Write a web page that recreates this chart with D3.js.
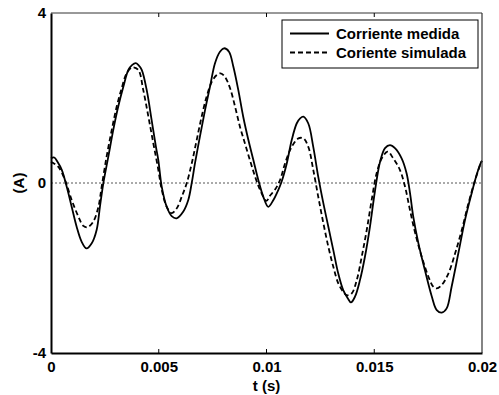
<!DOCTYPE html>
<html>
<head>
<meta charset="utf-8">
<script src="https://cdn.jsdelivr.net/npm/d3@7"></script>
<style>
  body { margin: 0; background: #fff; }
  text { font-family: "Liberation Sans", Arial, sans-serif; font-weight: bold; }
</style>
</head>
<body>
<div id="chart"></div>
<script>
// time in ms, current in A
var tMedida = [0.00, 0.15, 0.30, 0.50, 0.73, 0.96, 1.19, 1.42, 1.65, 1.89, 2.12, 2.27, 2.43, 2.66, 2.89, 3.12, 3.36, 3.59, 3.77, 3.93, 4.05, 4.21, 4.44, 4.67, 4.87, 4.98, 5.14, 5.37, 5.60, 5.83, 6.14, 6.37, 6.53, 6.68, 6.91, 7.15, 7.38, 7.61, 7.84, 8.03, 8.26, 8.46, 8.69, 8.92, 9.16, 9.39, 9.62, 9.85, 10.08, 10.32, 10.55, 10.70, 10.94, 11.17, 11.40, 11.56, 11.71, 11.94, 12.17, 12.40, 12.64, 12.87, 13.10, 13.33, 13.56, 13.77, 13.92, 14.11, 14.34, 14.57, 14.80, 15.03, 15.27, 15.50, 15.73, 15.96, 16.27, 16.50, 16.66, 16.81, 17.05, 17.35, 17.67, 17.90, 18.13, 18.36, 18.59, 18.90, 19.21, 19.52, 19.75, 19.95, 20.00];
var iMedida = [0.58, 0.60, 0.50, 0.31, -0.09, -0.56, -1.03, -1.38, -1.54, -1.42, -1.10, -0.56, 0.00, 0.62, 1.25, 1.80, 2.27, 2.66, 2.78, 2.82, 2.78, 2.66, 2.19, 1.48, 0.85, 0.54, -0.09, -0.56, -0.78, -0.83, -0.67, -0.40, 0.00, 0.46, 1.09, 1.72, 2.27, 2.82, 3.09, 3.17, 3.09, 2.74, 2.19, 1.56, 1.01, 0.54, 0.07, -0.32, -0.56, -0.40, -0.16, 0.03, 0.46, 1.01, 1.40, 1.52, 1.56, 1.40, 0.85, 0.15, -0.48, -1.03, -1.58, -2.13, -2.52, -2.71, -2.81, -2.67, -2.28, -1.73, -1.03, -0.20, 0.50, 0.82, 0.89, 0.82, 0.58, 0.23, -0.24, -0.79, -1.42, -2.05, -2.67, -2.99, -3.05, -2.95, -2.44, -1.66, -0.87, -0.24, 0.19, 0.48, 0.52];

var tSimulada = [0.00, 0.10, 0.34, 0.65, 0.96, 1.27, 1.50, 1.70, 1.96, 2.20, 2.35, 2.58, 2.82, 3.05, 3.28, 3.51, 3.77, 4.05, 4.28, 4.52, 4.75, 4.98, 5.14, 5.37, 5.60, 5.83, 6.07, 6.30, 6.53, 6.76, 6.99, 7.22, 7.46, 7.69, 7.87, 8.07, 8.31, 8.54, 8.77, 9.00, 9.23, 9.47, 9.70, 10.00, 10.16, 10.39, 10.63, 10.86, 11.17, 11.48, 11.71, 11.94, 12.17, 12.40, 12.64, 12.87, 13.10, 13.33, 13.56, 13.72, 13.95, 14.19, 14.42, 14.65, 14.88, 15.11, 15.35, 15.62, 15.88, 16.19, 16.43, 16.66, 16.90, 17.20, 17.51, 17.74, 17.90, 18.13, 18.44, 18.75, 19.06, 19.37, 19.68, 19.95, 20.00];
var iSimulada = [0.50, 0.47, 0.38, 0.07, -0.40, -0.79, -1.01, -1.04, -0.91, -0.56, -0.09, 0.62, 1.25, 1.80, 2.23, 2.58, 2.72, 2.66, 2.19, 1.56, 0.93, 0.31, -0.16, -0.56, -0.71, -0.60, -0.32, 0.00, 0.46, 1.01, 1.56, 2.03, 2.38, 2.54, 2.58, 2.50, 2.23, 1.80, 1.32, 0.93, 0.54, 0.15, -0.16, -0.42, -0.30, -0.16, 0.07, 0.46, 0.85, 1.05, 1.05, 0.85, 0.31, -0.32, -0.95, -1.50, -1.97, -2.36, -2.56, -2.64, -2.60, -2.28, -1.73, -1.11, -0.40, 0.23, 0.58, 0.74, 0.58, 0.31, -0.09, -0.64, -1.18, -1.73, -2.20, -2.44, -2.48, -2.40, -2.13, -1.66, -1.11, -0.48, 0.07, 0.47, 0.52];

var xTicks = [0, 0.005, 0.01, 0.015, 0.02];
var xTickLabels = ["0", "0.005", "0.01", "0.015", "0.02"];
var yTicks = [-4, 0, 4];
var yTickLabels = ["-4", "0", "4"];
var seriesNames = ["Corriente medida", "Coriente simulada"];

// set the dimensions and margins of the graph
var margin = {top: 13, right: 17, bottom: 42, left: 51},
    width = 499 - margin.left - margin.right,
    height = 395 - margin.top - margin.bottom;

var svg = d3.select("#chart")
  .append("svg")
    .attr("width", 499)
    .attr("height", 395)
  .append("g")
    .attr("transform", "translate(" + margin.left + "," + margin.top + ")");

var x = d3.scaleLinear().domain([0, 0.02]).range([0, width]);
var y = d3.scaleLinear().domain([-4, 4]).range([height, 0]);

// zero reference line
svg.append("line")
  .attr("x1", 0).attr("x2", width)
  .attr("y1", y(0)).attr("y2", y(0))
  .attr("stroke", "#555")
  .attr("stroke-width", 1)
  .attr("stroke-dasharray", "2,2");

var medida = tMedida.map(function(t, i) { return {t: t / 1000, v: iMedida[i]}; });
var simulada = tSimulada.map(function(t, i) { return {t: t / 1000, v: iSimulada[i]}; });

var line = d3.line()
  .x(function(d) { return x(d.t); })
  .y(function(d) { return y(d.v); })
  .curve(d3.curveCatmullRom);

svg.append("path")
  .datum(simulada)
  .attr("fill", "none")
  .attr("stroke", "#000")
  .attr("stroke-width", 1.8)
  .attr("stroke-dasharray", "5,3")
  .attr("d", line);

svg.append("path")
  .datum(medida)
  .attr("fill", "none")
  .attr("stroke", "#000")
  .attr("stroke-width", 1.8)
  .attr("d", line);

// frame: top and right thin, left and bottom heavier
svg.append("line").attr("x1", 0).attr("x2", width).attr("y1", 0).attr("y2", 0)
  .attr("stroke", "#333").attr("stroke-width", 1);
svg.append("line").attr("x1", width).attr("x2", width).attr("y1", 0).attr("y2", height)
  .attr("stroke", "#333").attr("stroke-width", 1.2);

// X axis (ticks drawn inside, labels below)
var xAxis = svg.append("g")
  .attr("transform", "translate(0," + height + ")")
  .call(d3.axisBottom(x).tickValues(xTicks).tickSize(0).tickPadding(8)
    .tickFormat(function(d, i) { return xTickLabels[i]; }));
xAxis.select(".domain").attr("stroke", "#000").attr("stroke-width", 2);
xAxis.selectAll("text").attr("font-size", "15px").attr("fill", "#000");

// Y axis
var yAxis = svg.append("g")
  .call(d3.axisLeft(y).tickValues(yTicks).tickSize(0).tickPadding(5)
    .tickFormat(function(d, i) { return yTickLabels[i]; }));
yAxis.select(".domain").attr("stroke", "#000").attr("stroke-width", 2);
yAxis.selectAll("text").attr("font-size", "15px").attr("fill", "#000");

// small inner ticks, top and bottom
xTicks.slice(1, -1).forEach(function(t) {
  svg.append("line").attr("x1", x(t)).attr("x2", x(t)).attr("y1", 0).attr("y2", 4)
    .attr("stroke", "#000").attr("stroke-width", 1);
  svg.append("line").attr("x1", x(t)).attr("x2", x(t)).attr("y1", height).attr("y2", height - 4)
    .attr("stroke", "#000").attr("stroke-width", 1);
});

// axis titles
svg.append("text")
  .attr("x", x(0.01))
  .attr("y", height + 38)
  .attr("text-anchor", "middle")
  .attr("font-size", "15px")
  .text("t (s)");

svg.append("text")
  .attr("transform", "rotate(-90)")
  .attr("x", -y(0))
  .attr("y", -27)
  .attr("text-anchor", "middle")
  .attr("font-size", "15px")
  .text("(A)");

// legend
var lg = svg.append("g").attr("transform", "translate(" + (231) + "," + 7 + ")");
lg.append("rect")
  .attr("width", 196).attr("height", 48)
  .attr("fill", "#fff").attr("stroke", "#000").attr("stroke-width", 1);
seriesNames.forEach(function(name, i) {
  var ly = 13.5 + i * 19;
  lg.append("line")
    .attr("x1", 8).attr("x2", 47).attr("y1", ly).attr("y2", ly)
    .attr("stroke", "#000").attr("stroke-width", 1.8)
    .attr("stroke-dasharray", i === 1 ? "5,3" : null);
  lg.append("text")
    .attr("x", 54).attr("y", ly + 5.5)
    .attr("font-size", "15px")
    .text(name);
});
</script>
</body>
</html>
